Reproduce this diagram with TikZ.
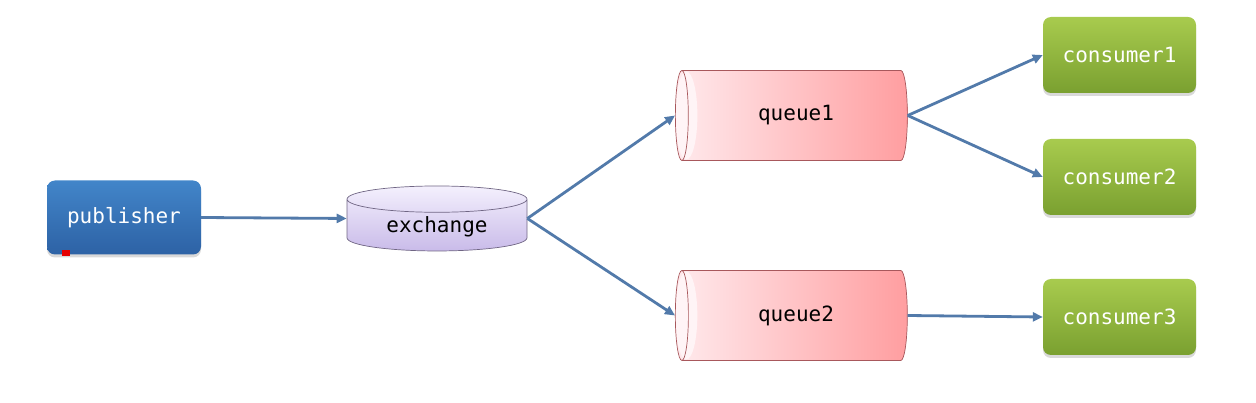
\documentclass[tikz,border=0pt]{standalone}
\usepackage{fontspec}
\setmonofont{DejaVu Sans Mono}
\usetikzlibrary{arrows.meta,shapes.geometric,shadows}
\definecolor{pubtop}{RGB}{66,133,201}
\definecolor{pubbot}{RGB}{45,98,165}
\definecolor{contop}{RGB}{168,203,78}
\definecolor{conbot}{RGB}{122,160,48}
\definecolor{exctop}{RGB}{244,240,253}
\definecolor{excbot}{RGB}{201,187,233}
\definecolor{excline}{RGB}{112,102,132}
\definecolor{queleft}{RGB}{255,234,237}
\definecolor{queright}{RGB}{255,158,160}
\definecolor{queend}{RGB}{255,244,246}
\definecolor{queline}{RGB}{168,88,92}
\definecolor{linkcol}{RGB}{82,122,170}
\begin{document}
\begin{tikzpicture}[x=1pt, y=-1pt,
    font=\ttfamily\fontsize{21}{25}\selectfont,
    box/.style={rounded corners=8pt, draw=none, minimum width=154pt, minimum height=74pt,
      drop shadow={shadow xshift=0pt, shadow yshift=-3pt, opacity=0.3}},
    pubbox/.style={box, top color=pubtop, bottom color=pubbot, text=white},
    conbox/.style={box, top color=contop, bottom color=conbot, text=white,
      minimum width=153pt, minimum height=76pt},
    exch/.style={cylinder, shape border rotate=90, aspect=0.244,
      minimum height=65pt, minimum width=180pt,
      draw=excline, line width=0.7pt, top color=exctop, bottom color=excbot},
    queue/.style={cylinder, shape border rotate=180, aspect=0.49,
      minimum height=232pt, minimum width=90pt,
      draw=queline, line width=0.7pt, left color=queleft, right color=queright,
      path picture={\fill[queend] ([xshift=11pt]path picture bounding box.west)
        ellipse (11pt and 44pt);}},
    link/.style={draw=linkcol, line width=2.8pt, -{Triangle[length=10pt,width=9pt]}}]
  \useasboundingbox (0,0) rectangle (1256,403);

  \node[pubbox] (publisher) at (124,217.5) {publisher};
  \fill[red!90!black] (62,250) rectangle (70,256);
  \node[exch] (exchange) at (437,227) {exchange};
  \node[queue] (queue1) at (796,115.5) {queue1};
  \node[queue] (queue2) at (796,315.5) {queue2};
  \node[conbox] (consumer1) at (1119.5,55) {consumer1};
  \node[conbox] (consumer2) at (1119.5,177) {consumer2};
  \node[conbox] (consumer3) at (1119.5,317) {consumer3};

  \draw[link] (publisher.east) -- (exchange.west |- exchange.shape center);
  \draw[link] (exchange.east |- exchange.shape center) -- (queue1.west);
  \draw[link] (exchange.east |- exchange.shape center) -- (queue2.west);
  \draw[link] (queue1.east) -- (consumer1.west);
  \draw[link] (queue1.east) -- (consumer2.west);
  \draw[link] (queue2.east) -- (consumer3.west);
\end{tikzpicture}
\end{document}
